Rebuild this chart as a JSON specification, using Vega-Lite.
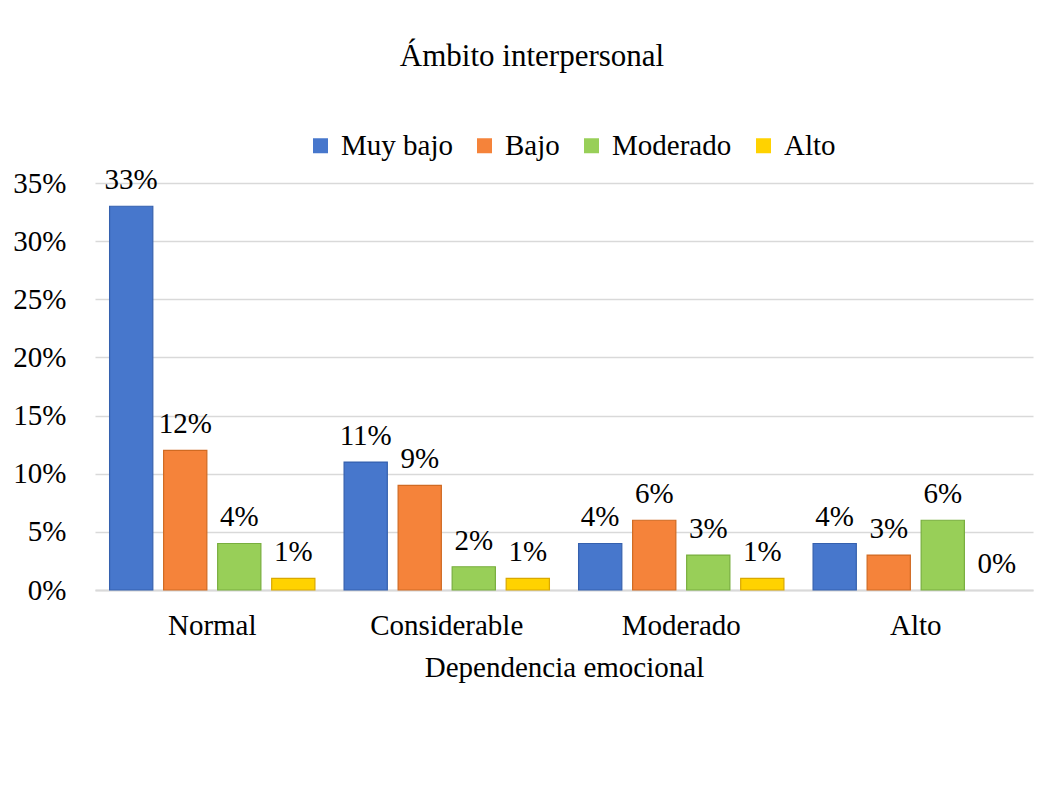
{
  "$schema": "https://vega.github.io/schema/vega-lite/v6.json",
  "width": 938,
  "height": 407,
  "autosize": "none",
  "padding": {"left": 95, "top": 183, "right": 16, "bottom": 207},
  "background": "white",
  "title": {
    "text": "Ámbito interpersonal",
    "fontSize": 31,
    "fontWeight": "normal",
    "color": "#000000",
    "offset": 58,
    "dx": -32
  },
  "data": {
    "values": [
      {"Nivel": "Normal", "Serie": "Muy bajo", "valor": 0.33},
      {"Nivel": "Normal", "Serie": "Bajo", "valor": 0.12},
      {"Nivel": "Normal", "Serie": "Moderado", "valor": 0.04},
      {"Nivel": "Normal", "Serie": "Alto", "valor": 0.01},
      {"Nivel": "Considerable", "Serie": "Muy bajo", "valor": 0.11},
      {"Nivel": "Considerable", "Serie": "Bajo", "valor": 0.09},
      {"Nivel": "Considerable", "Serie": "Moderado", "valor": 0.02},
      {"Nivel": "Considerable", "Serie": "Alto", "valor": 0.01},
      {"Nivel": "Moderado", "Serie": "Muy bajo", "valor": 0.04},
      {"Nivel": "Moderado", "Serie": "Bajo", "valor": 0.06},
      {"Nivel": "Moderado", "Serie": "Moderado", "valor": 0.03},
      {"Nivel": "Moderado", "Serie": "Alto", "valor": 0.01},
      {"Nivel": "Alto", "Serie": "Muy bajo", "valor": 0.04},
      {"Nivel": "Alto", "Serie": "Bajo", "valor": 0.03},
      {"Nivel": "Alto", "Serie": "Moderado", "valor": 0.06},
      {"Nivel": "Alto", "Serie": "Alto", "valor": 0.0}
    ]
  },
  "encoding": {
    "x": {
      "field": "Nivel",
      "type": "nominal",
      "sort": ["Normal", "Considerable", "Moderado", "Alto"],
      "scale": {"paddingInner": 0, "paddingOuter": 0},
      "axis": {
        "title": "Dependencia emocional",
        "labelAngle": 0,
        "ticks": false,
        "domain": true,
        "domainColor": "#D9D9D9",
        "domainWidth": 2,
        "labelPadding": 21,
        "titlePadding": 13
      }
    },
    "xOffset": {
      "field": "Serie",
      "type": "nominal",
      "sort": ["Muy bajo", "Bajo", "Moderado", "Alto"],
      "scale": {"paddingInner": 0.2, "paddingOuter": 0.27}
    },
    "y": {
      "field": "valor",
      "type": "quantitative",
      "scale": {"domain": [0, 0.35], "nice": false},
      "axis": {
        "title": null,
        "format": ".0%",
        "values": [0, 0.05, 0.1, 0.15, 0.2, 0.25, 0.3, 0.35],
        "domain": false,
        "ticks": false,
        "grid": true,
        "gridColor": "#D9D9D9",
        "gridWidth": 1.5,
        "labelPadding": 29
      }
    }
  },
  "layer": [
    {
      "mark": {"type": "bar", "strokeWidth": 1.2},
      "encoding": {
        "fill": {
          "field": "Serie",
          "type": "nominal",
          "sort": ["Muy bajo", "Bajo", "Moderado", "Alto"],
          "scale": {
            "domain": ["Muy bajo", "Bajo", "Moderado", "Alto"],
            "range": ["#4777CC", "#F5833A", "#98CF58", "#FFD200"]
          },
          "legend": {
            "orient": "none",
            "legendX": 211,
            "legendY": -52,
            "direction": "horizontal",
            "columns": 4,
            "title": null,
            "symbolType": "square",
            "symbolSize": 225,
            "symbolStrokeWidth": 0,
            "labelOffset": 6,
            "columnPadding": 17,
            "labelFont": "Liberation Serif",
            "labelFontSize": 29,
            "labelColor": "#000000"
          }
        },
        "stroke": {
          "field": "Serie",
          "type": "nominal",
          "scale": {
            "domain": ["Muy bajo", "Bajo", "Moderado", "Alto"],
            "range": ["#3560AE", "#D06A22", "#78AE3E", "#D9A800"]
          },
          "legend": null
        },
        "strokeOpacity": {
          "condition": {"test": "datum.valor === 0", "value": 0},
          "value": 1
        }
      }
    },
    {
      "mark": {
        "type": "text",
        "baseline": "alphabetic",
        "align": "center",
        "dy": -17,
        "font": "Liberation Serif",
        "fontSize": 29,
        "color": "#000000"
      },
      "encoding": {
        "text": {"field": "valor", "type": "quantitative", "format": ".0%"}
      }
    }
  ],
  "config": {
    "font": "Liberation Serif",
    "view": {"stroke": null},
    "axis": {
      "labelFontSize": 29,
      "labelColor": "#000000",
      "titleFontSize": 29,
      "titleFontWeight": "normal",
      "titleColor": "#000000"
    }
  }
}
